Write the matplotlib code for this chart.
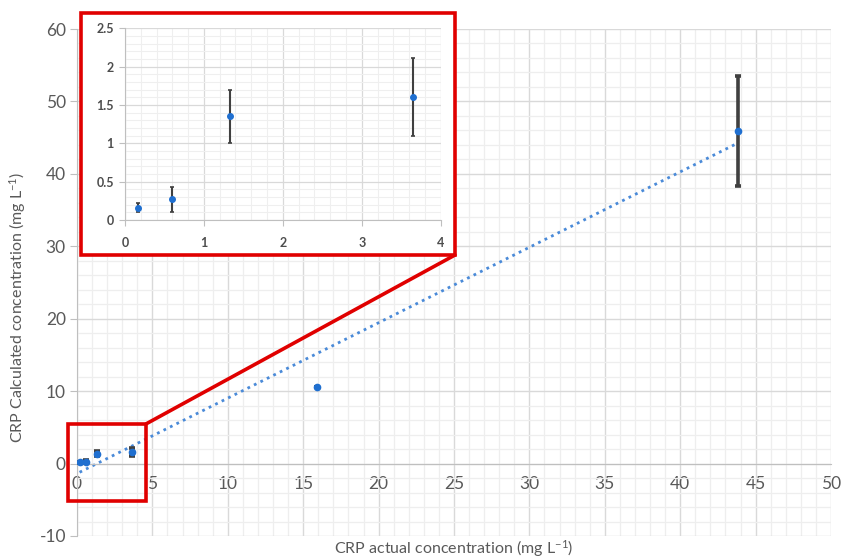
import numpy as np
import matplotlib
matplotlib.use('Agg')
import matplotlib.pyplot as plt
from matplotlib.patches import Rectangle, ConnectionPatch
from matplotlib.ticker import MultipleLocator

plt.rcParams['font.family'] = ['Lato', 'DejaVu Sans']
plt.rcParams['mathtext.fontset'] = 'custom'
plt.rcParams['mathtext.rm'] = 'Lato'
plt.rcParams['mathtext.it'] = 'Lato:italic'
plt.rcParams['axes.unicode_minus'] = False

# CRP data (mg/L)
actual = [0.17, 0.6, 1.33, 3.65, 15.9, 43.8]
calculated = [0.16, 0.27, 1.35, 1.6, 10.6, 45.9]
err = [0.06, 0.16, 0.34, 0.51, 0.0, 7.6]

# inset shows the low range only
n_low = 4

blue = '#1f6fd0'
grey_txt = '#595959'
red = '#e00000'

fig = plt.figure(figsize=(8.45, 5.58), dpi=100)
ax = fig.add_axes([77/845, 1-536/558, 754/845, 507/558])

ax.errorbar(actual, calculated, yerr=err, fmt='o', color=blue, ms=4.5,
            ecolor='#404040', elinewidth=2.6, capsize=2.5, capthick=2.6, zorder=3)

# linear trendline
slope, icpt = np.polyfit(actual, calculated, 1)
xt = np.array([min(actual), max(actual)])
ax.plot(xt, slope*xt + icpt, linestyle=(0, (1, 1.6)), color='#4a8ad8', lw=2, zorder=2)

ax.set_xlim(0, 50)
ax.set_ylim(-10, 60)
ax.xaxis.set_major_locator(MultipleLocator(5))
ax.xaxis.set_minor_locator(MultipleLocator(1))
ax.yaxis.set_major_locator(MultipleLocator(10))
ax.yaxis.set_minor_locator(MultipleLocator(2))
ax.grid(which='major', color='#d9d9d9', lw=1)
ax.grid(which='minor', color='#eeeeee', lw=0.9)
ax.set_axisbelow(True)
for s in ['top', 'right']:
    ax.spines[s].set_visible(False)
ax.spines['bottom'].set_position(('data', 0))
ax.spines['bottom'].set_color('#bfbfbf')
ax.spines['left'].set_color('#bfbfbf')
ax.tick_params(which='minor', length=0)
ax.tick_params(axis='y', which='major', length=5, color='#bfbfbf', labelsize=12.5,
               labelcolor=grey_txt, pad=3)
ax.tick_params(axis='x', which='major', length=0, labelsize=12.5,
               labelcolor=grey_txt, pad=9)
ax.set_ylabel('CRP Calculated concentration (mg L$^{-1}$)', fontsize=11.5,
              color=grey_txt)
ax.yaxis.set_label_coords(-0.065, 0.45)
ax.text(0.5, -0.024, 'CRP actual concentration (mg L$^{-1}$)', transform=ax.transAxes,
        ha='center', va='center', fontsize=11.5, color=grey_txt)

# small red box around the low range
small = Rectangle((-0.6, -5.1), 5.2, 10.6, fill=False, ec=red, lw=2.6,
                  clip_on=False, zorder=5)
ax.add_patch(small)

# big red box around inset (figure coords)
bx0, by0, bx1, by1 = 81/845, 1-255/558, 455/845, 1-13.3/558
fig.add_artist(Rectangle((bx0, by0), bx1-bx0, by1-by0, transform=fig.transFigure,
                         fc='white', ec='none', zorder=2))
fig.add_artist(Rectangle((bx0, by0), bx1-bx0, by1-by0, transform=fig.transFigure,
                         fill=False, ec=red, lw=2.6, zorder=6))
for (xa, ya), xb in [((-0.6, 5.5), bx0), ((4.6, 5.5), bx1)]:
    con = ConnectionPatch(xyA=(xa, ya), coordsA='data', axesA=ax,
                          xyB=(xb, by0), coordsB=fig.transFigure,
                          color=red, lw=2.6, zorder=6)
    fig.add_artist(con)

# inset
ins = fig.add_axes([125/845, 1-220/558, 315.7/845, 191.7/558])
ins.set_zorder(3)
ins.errorbar(actual[:n_low], calculated[:n_low], yerr=err[:n_low], fmt='o', color=blue,
             ms=4, ecolor='#404040', elinewidth=1.5, capsize=1.2, capthick=1.2, zorder=3)
ins.set_xlim(0, 4)
ins.set_ylim(0, 2.5)
ins.xaxis.set_major_locator(MultipleLocator(1))
ins.xaxis.set_minor_locator(MultipleLocator(0.2))
ins.yaxis.set_major_locator(MultipleLocator(0.5))
ins.yaxis.set_minor_locator(MultipleLocator(0.1))
ins.grid(which='major', color='#d9d9d9', lw=0.9)
ins.grid(which='minor', color='#efefef', lw=0.8)
ins.set_axisbelow(True)
for s in ['top', 'right']:
    ins.spines[s].set_visible(False)
ins.spines['bottom'].set_color('#bfbfbf')
ins.spines['left'].set_color('#bfbfbf')
ins.tick_params(which='minor', length=0)
ins.tick_params(which='major', length=4, color='#bfbfbf', labelsize=9,
                labelcolor='#4d4d4d', pad=4)
ins.tick_params(axis='x', pad=8)
ins.set_yticks([0, 0.5, 1, 1.5, 2, 2.5], ['0', '0.5', '1', '1.5', '2', '2.5'], fontweight='bold')
ins.set_xticks([0, 1, 2, 3, 4], ['0', '1', '2', '3', '4'], fontweight='bold')

fig.savefig('out.png', dpi=100)
